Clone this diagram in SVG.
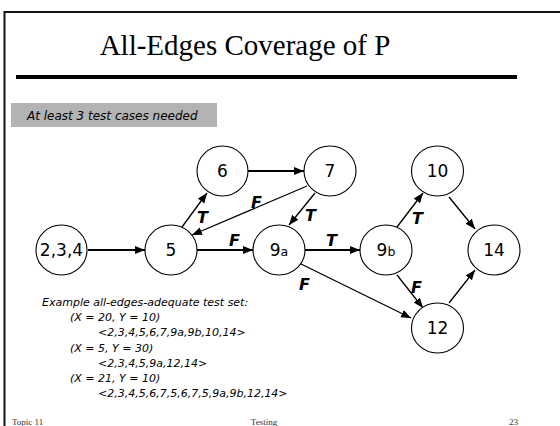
<svg xmlns="http://www.w3.org/2000/svg" width="560" height="426" viewBox="0 0 560 426">
  <style>
    .node ellipse { fill: #ffffff; stroke: #000000; stroke-width: 1.1; }
    .node text { font-family: "DejaVu Sans", Verdana, sans-serif; font-size: 17px; text-anchor: middle; fill: #000000; }
    .node .sub { font-size: 12.5px; }
    .edge { stroke: #000000; fill: none; marker-end: url(#arrow); }
    .thick { stroke-width: 2; }
    .thin { stroke-width: 1.3; }
    .lbl { font-family: "DejaVu Sans", Verdana, sans-serif; font-size: 16px; font-weight: bold; font-style: italic; fill: #000000; }
    .note { font-family: "DejaVu Sans", Verdana, sans-serif; font-size: 11px; font-style: italic; fill: #000000; }
    .foot { font-family: "Liberation Serif", "Times New Roman", serif; font-size: 9px; fill: #333333; }
  </style>
  <defs>
    <marker id="arrow" markerUnits="userSpaceOnUse" markerWidth="11" markerHeight="9" refX="10" refY="4" orient="auto">
      <path d="M0,0 L10,4 L0,8 Z" fill="#000000"/>
    </marker>
  </defs>

  <rect width="560" height="426" fill="#ffffff"/>

  <!-- slide frame -->
  <path d="M4.5,426 V12 H560" fill="none" stroke="#111111" stroke-width="2"/>

  <!-- title and rule -->
  <text x="245" y="55" font-family="Liberation Serif, 'Times New Roman', serif" font-size="29" text-anchor="middle" fill="#000000">All-Edges Coverage of P</text>
  <rect x="16" y="75" width="501" height="4" fill="#000000"/>

  <!-- subtitle bar -->
  <rect x="11" y="103" width="206" height="24" fill="#b3b3b3"/>
  <text class="note" x="27" y="120" style="font-size:12px" fill="#1a1a1a">At least 3 test cases needed</text>

  <!-- connectors -->
  <g id="edges">
    <line class="edge thick" x1="88" y1="250" x2="145" y2="250"/>
    <line class="edge thick" x1="197" y1="250" x2="253" y2="250"/>
    <line class="edge thick" x1="248" y1="171" x2="304" y2="171"/>
    <line class="edge thick" x1="305" y1="250" x2="360" y2="250"/>
    <line class="edge thin" x1="182" y1="227" x2="207" y2="193"/>
    <line class="edge thin" x1="307" y1="186" x2="192" y2="235"/>
    <line class="edge thin" x1="315" y1="193" x2="289" y2="225"/>
    <line class="edge thin" x1="299" y1="263" x2="411" y2="318"/>
    <line class="edge thin" x1="397" y1="227" x2="423" y2="193"/>
    <line class="edge thin" x1="449" y1="197" x2="475" y2="229"/>
    <line class="edge thin" x1="397" y1="275" x2="423" y2="308"/>
    <line class="edge thin" x1="449" y1="303" x2="475" y2="270"/>

    <text class="lbl" x="197" y="223">T</text>
    <text class="lbl" x="251" y="208">F</text>
    <text class="lbl" x="229" y="246">F</text>
    <text class="lbl" x="305" y="221">T</text>
    <text class="lbl" x="326" y="246">T</text>
    <text class="lbl" x="299" y="290">F</text>
    <text class="lbl" x="412" y="224">T</text>
    <text class="lbl" x="411" y="293">F</text>
  </g>

  <!-- nodes -->
  <g id="n234" class="node"><ellipse cx="61.5" cy="250" rx="25.5" ry="25"/><text x="61.5" y="256">2,3,4</text></g>
  <g id="n5" class="node"><ellipse cx="171" cy="250" rx="26" ry="25"/><text x="171" y="256">5</text></g>
  <g id="n6" class="node"><ellipse cx="222.5" cy="171" rx="25.5" ry="25"/><text x="222.5" y="177">6</text></g>
  <g id="n7" class="node"><ellipse cx="330" cy="171" rx="26" ry="25"/><text x="330" y="177">7</text></g>
  <g id="n9a" class="node"><ellipse cx="279" cy="250" rx="26" ry="25"/><text x="279" y="256">9<tspan class="sub">a</tspan></text></g>
  <g id="n9b" class="node"><ellipse cx="386" cy="250" rx="26" ry="25"/><text x="386" y="256">9<tspan class="sub">b</tspan></text></g>
  <g id="n10" class="node"><ellipse cx="437.5" cy="171" rx="26" ry="25"/><text x="437.5" y="177">10</text></g>
  <g id="n14" class="node"><ellipse cx="494" cy="250" rx="26" ry="25"/><text x="494" y="256">14</text></g>
  <g id="n12" class="node"><ellipse cx="437.5" cy="328" rx="26" ry="25"/><text x="437.5" y="334">12</text></g>

  <!-- example test set -->
  <g id="example">
    <text class="note" x="42" y="306">Example all-edges-adequate test set:</text>
    <text class="note" x="70" y="321.2">(X = 20, Y = 10)</text>
    <text class="note" x="98" y="336.4">&lt;2,3,4,5,6,7,9a,9b,10,14&gt;</text>
    <text class="note" x="70" y="351.6">(X = 5, Y = 30)</text>
    <text class="note" x="98" y="366.8">&lt;2,3,4,5,9a,12,14&gt;</text>
    <text class="note" x="70" y="382">(X = 21, Y = 10)</text>
    <text class="note" x="98" y="397.2">&lt;2,3,4,5,6,7,5,6,7,5,9a,9b,12,14&gt;</text>
  </g>

  <!-- footer -->
  <text class="foot" x="12" y="424.5">Topic 11</text>
  <text class="foot" x="264" y="424.5" text-anchor="middle">Testing</text>
  <text class="foot" x="518" y="424.5" text-anchor="end">23</text>
</svg>
